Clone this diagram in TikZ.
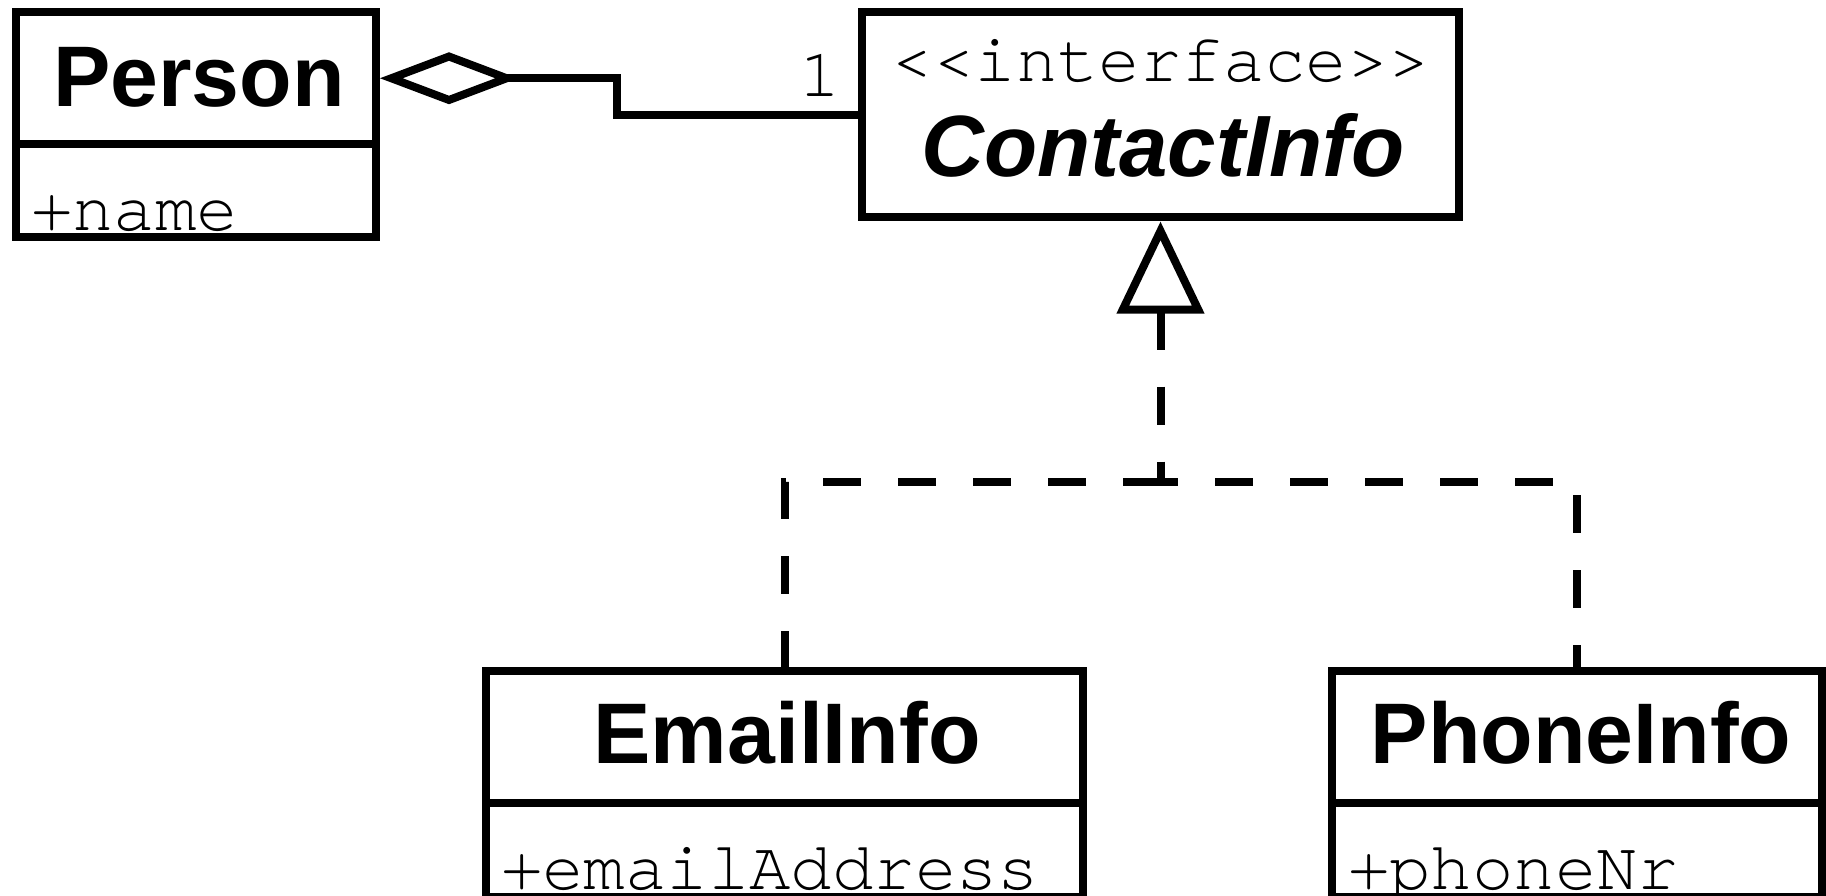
\documentclass[tikz,border=0pt]{standalone}
\usepackage{fontspec}
\setmainfont{Liberation Sans}
\newfontfamily\umlmono{TeX Gyre Cursor}
\usetikzlibrary{arrows.meta}
\begin{document}
\begin{tikzpicture}[x=1pt,y=-1pt,line width=8pt,
  box/.style={draw,line width=8pt,rectangle,inner sep=0pt},
  cname/.style={font=\fontsize{86}{100}\selectfont\bfseries,inner sep=0pt,anchor=base},
  iname/.style={font=\fontsize{87}{100}\selectfont\bfseries\itshape,inner sep=0pt,anchor=base},
  mono/.style={font=\umlmono\fontsize{69}{80}\selectfont,inner sep=0pt},
  realiz/.style={line width=8pt,dash pattern=on 38pt off 37pt},
  assoc/.style={line width=8pt,line join=miter}]
\useasboundingbox (0,0) rectangle (1826,896);
% Person
\node[box,minimum width=360pt,minimum height=131.5pt] (personH) at (196,78.25) {};
\node[box,minimum width=360pt,minimum height=93.5pt] (personA) at (196,190.75) {};
\node[cname] (personT) at (199,107) {Person};
\node[mono,anchor=base west] (personAt) at (27,230) {+name};
% ContactInfo
\node[box,minimum width=597pt,minimum height=205pt] (contact) at (1160.5,115) {};
\node[mono,anchor=base] (stereo) at (1161,82) {<<interface>>};
\node[iname] (contactT) at (1163,177) {ContactInfo};
% EmailInfo
\node[box,minimum width=597pt,minimum height=132pt] (emailH) at (784.5,737) {};
\node[box,minimum width=597pt,minimum height=93.5pt] (emailA) at (784.5,849.75) {};
\node[cname] (emailT) at (787,763) {EmailInfo};
\node[mono,anchor=base west] (emailAt) at (497,889) {+emailAddress};
% PhoneInfo
\node[box,minimum width=490pt,minimum height=132pt] (phoneH) at (1577,737) {};
\node[box,minimum width=490pt,minimum height=93.5pt] (phoneA) at (1577,849.75) {};
\node[cname] (phoneT) at (1581,763) {PhoneInfo};
\node[mono,anchor=base west] (phoneAt) at (1344,889) {+phoneNr};
% association
\coordinate (jog) at (617,0);
\draw[assoc,{Diamond[open,length=138pt,width=52pt,line width=8pt]}-] (personH.east) -| (jog |- contact.west) -- (contact.west);
\node[mono,anchor=base] (mult) at (820,97) {1};
% realization
\coordinate (junc) at (1160.5,482);
\draw[realiz,{Triangle[open,length=92pt,width=86pt,line width=8pt]}-] (contact.south) -- (junc) -| (phoneH.north);
\draw[realiz] (junc) -| (emailH.north);
\end{tikzpicture}
\end{document}
